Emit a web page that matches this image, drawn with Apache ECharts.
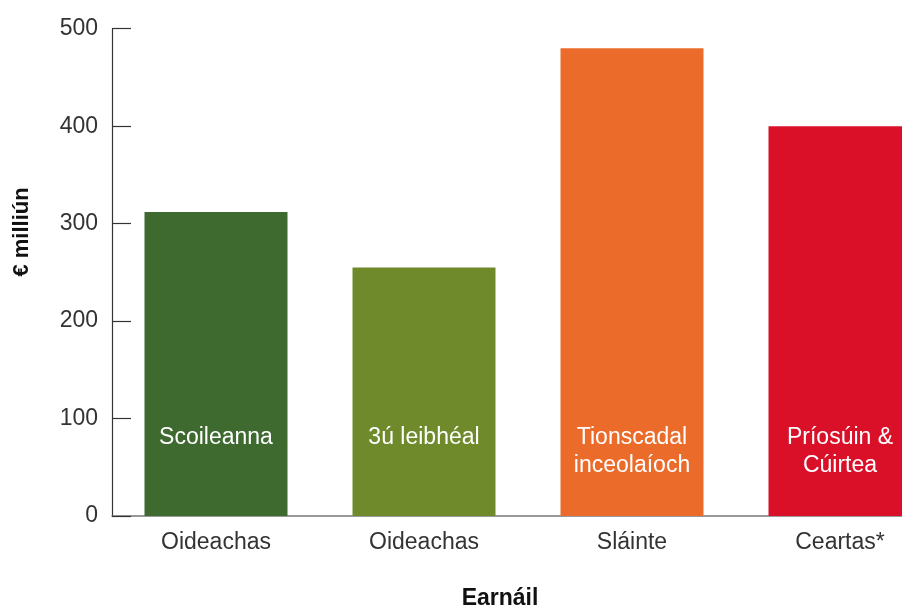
<!DOCTYPE html>
<html>
<head>
<meta charset="utf-8">
<script src="https://cdn.jsdelivr.net/npm/echarts@6/dist/echarts.min.js"></script>
<style>
html,body{margin:0;padding:0;background:#fff;}
#chart{width:902px;height:609px;}
</style>
</head>
<body>
<div id="chart"></div>
<script>
const categories = ['Oideachas', 'Oideachas', 'Sláinte', 'Ceartas*'];
const barLabels = ['Scoileanna', '3ú leibhéal', 'Tionscadal\ninceolaíoch', 'Príosúin &\nCúirtea'];
const values = [312, 255, 480, 400];
const barColors = ['#3e6a30', '#6e8a2a', '#eb6b2a', '#da1029'];
const yTicks = [0, 100, 200, 300, 400, 500];

const FONT = '"Liberation Sans", Arial, Helvetica, sans-serif';
const chart = echarts.init(document.getElementById('chart'));
chart.setOption({
  animation: false,
  backgroundColor: '#fff',
  grid: { left: 112, top: 28.7, width: 832, bottom: 93, containLabel: false, outerBoundsMode: 'none' },
  xAxis: {
    type: 'category',
    data: categories,
    axisLine: { show: true, lineStyle: { color: '#777', width: 1.5 } },
    axisTick: { show: false },
    axisLabel: { color: '#333', fontSize: 23, fontFamily: FONT, margin: 15, lineHeight: 24 }
  },
  yAxis: {
    type: 'value',
    min: yTicks[0],
    max: yTicks[yTicks.length - 1],
    interval: 100,
    axisLine: { show: true, lineStyle: { color: '#333', width: 1.2 } },
    axisTick: { show: true, inside: true, length: 19, lineStyle: { color: '#333', width: 1.2 } },
    splitLine: { show: false },
    axisLabel: { color: '#333', fontSize: 23, fontFamily: FONT, margin: 14 }
  },
  series: [{
    type: 'bar',
    barWidth: 143,
    data: values.map((v, i) => ({
      value: v,
      itemStyle: { color: barColors[i] },
      label: { formatter: barLabels[i] }
    })),
    label: {
      show: true,
      position: 'insideBottom',
      distance: 92,
      verticalAlign: 'top',
      align: 'center',
      color: '#fff',
      fontSize: 23,
      lineHeight: 28,
      fontFamily: FONT
    }
  }],
  graphic: [
    {
      type: 'text',
      x: 22, y: 232,
      rotation: Math.PI / 2,
      style: {
        text: '€ milliún',
        fill: '#111',
        font: 'bold 22px ' + FONT,
        textAlign: 'center',
        textVerticalAlign: 'middle'
      }
    },
    {
      type: 'text',
      x: 500, y: 599,
      style: {
        text: 'Earnáil',
        fill: '#111',
        font: 'bold 23px ' + FONT,
        textAlign: 'center',
        textVerticalAlign: 'middle'
      }
    }
  ]
});
</script>
</body>
</html>
